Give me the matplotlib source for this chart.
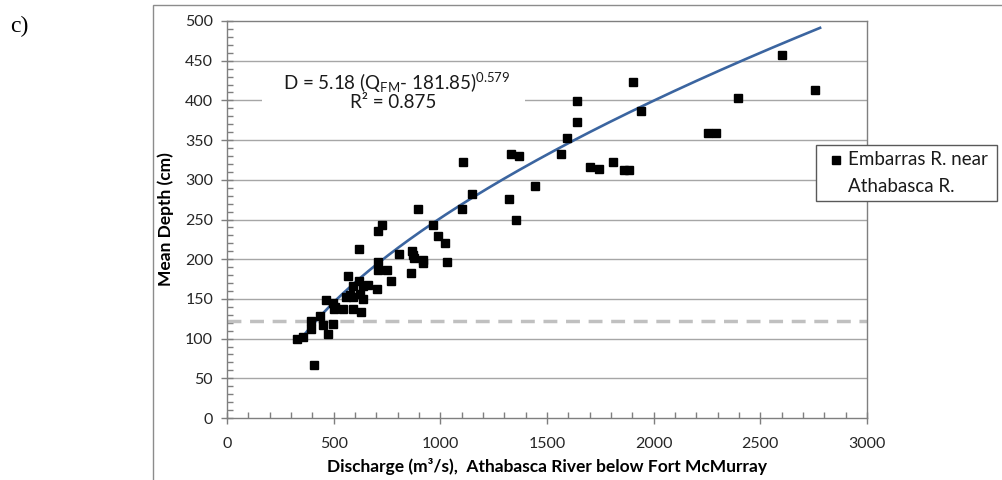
import numpy as np
import matplotlib
matplotlib.use("Agg")
import matplotlib.pyplot as plt
from matplotlib.patches import Rectangle
from matplotlib.lines import Line2D
from matplotlib.ticker import MultipleLocator

plt.rcParams['font.family'] = ['Lato', 'DejaVu Sans']
plt.rcParams['mathtext.fontset'] = 'custom'
plt.rcParams['mathtext.rm'] = 'Lato'
plt.rcParams['mathtext.it'] = 'Lato'

# ---- data ----
discharge = [327, 358, 394, 394, 409, 436, 451, 472, 464, 495, 498, 503, 506,
             545, 556, 566, 577, 589, 592, 592, 620, 620, 623, 627, 636, 639,
             659, 705, 706, 709, 706, 725, 749, 768, 808, 866, 873, 877, 863,
             897, 920, 920, 967, 991, 1022, 1032, 1103, 1108, 1150, 1322, 1330,
             1354, 1371, 1444, 1564, 1592, 1640, 1640, 1702, 1744, 1811, 1860,
             1885, 1903, 1940, 2253, 2292, 2393, 2602, 2756]
depth = [99, 102, 112, 122, 67, 129, 117, 106, 149, 119, 145, 137, 140,
         137, 153, 179, 155, 137, 152, 166, 213, 172, 156, 133, 150, 166,
         168, 163, 186, 196, 236, 243, 186, 173, 206, 210, 205, 201, 183,
         263, 199, 195, 243, 229, 220, 196, 263, 323, 282, 276, 333,
         250, 330, 292, 333, 353, 373, 399, 316, 313, 323, 312,
         312, 423, 387, 359, 359, 403, 457, 413]
fit_a, fit_q0, fit_b = 5.18, 181.85, 0.579
fit_range = (340, 2780)
threshold_depth = 122
series_label = "Embarras R. near\nAthabasca R."

W, H = 1002, 480
fig = plt.figure(figsize=(W / 100, H / 100), dpi=100)

def fx(px):
    return px / W

def fy(py):
    return 1 - py / H

# outer chart frame
fig.patches.append(Rectangle((fx(153), fy(485)), 2, fy(5) - fy(485),
                             transform=fig.transFigure, fill=False,
                             edgecolor='#8c8c8c', lw=1.0, zorder=0))

ax = fig.add_axes([fx(227), fy(418), fx(867) - fx(227), fy(21) - fy(418)])
ax.set_xlim(0, 3000)
ax.set_ylim(0, 500)

ax.xaxis.set_major_locator(MultipleLocator(500))
ax.xaxis.set_minor_locator(MultipleLocator(100))
ax.yaxis.set_major_locator(MultipleLocator(50))
ax.yaxis.set_minor_locator(MultipleLocator(10))
ax.tick_params(which='major', direction='inout', length=8, width=1,
               color='#7f7f7f', labelsize=11.5, labelcolor='#262626', pad=4)
ax.tick_params(which='minor', direction='in', length=4, width=1, color='#7f7f7f')
ax.tick_params(axis='x', pad=10)
ax.tick_params(axis='y', pad=6)

for s in ax.spines.values():
    s.set_color('#7f7f7f')
    s.set_linewidth(1.0)

for yv in range(50, 500, 50):
    ax.axhline(yv, color='#a6a6a6', lw=1.0, zorder=1)

ax.axhline(threshold_depth, color='#c0c0c0', lw=2.5, dashes=(4, 2.5), zorder=2)

q = np.linspace(fit_range[0], fit_range[1], 300)
ax.plot(q, fit_a * (q - fit_q0) ** fit_b, color='#3b65a0', lw=1.9, zorder=3)

ax.plot(discharge, depth, 's', color='black', ms=5.6, zorder=4)

ax.set_xlabel("Discharge (m³/s),  Athabasca River below Fort McMurray",
              fontsize=12.5, fontweight='bold', labelpad=5)
ax.set_ylabel("Mean Depth (cm)", fontsize=12.5, fontweight='bold', labelpad=8)

# equation box (white background hides the gridline)
fig.patches.append(Rectangle((fx(262), fy(112)), fx(525) - fx(262), fy(68) - fy(112),
                             transform=fig.transFigure, facecolor='white',
                             edgecolor='none', zorder=5))
fig.text(fx(397), fy(83), r"D = 5.18 (Q$_{\mathregular{FM}}$- 181.85)$^{\mathregular{0.579}}$",
         ha='center', va='center', fontsize=13.5, color='#1a1a1a', zorder=6)
fig.text(fx(393), fy(103), "R² = 0.875", ha='center', va='center',
         fontsize=13.5, color='#1a1a1a', zorder=6)

# legend
fig.patches.append(Rectangle((fx(816), fy(201)), fx(997) - fx(816), fy(145) - fy(201),
                             transform=fig.transFigure, facecolor='white',
                             edgecolor='#595959', lw=1.0, zorder=7))
fig.lines.append(Line2D([fx(836)], [fy(160)], marker='s', color='black', ms=5.5,
                        transform=fig.transFigure, zorder=8))
lines = series_label.split("\n")
fig.text(fx(848), fy(160), lines[0], ha='left', va='center', fontsize=13.5,
         color='#1a1a1a', zorder=8)
fig.text(fx(848), fy(187), lines[1], ha='left', va='center', fontsize=13.5,
         color='#1a1a1a', zorder=8)

fig.text(fx(10), fy(26), "c)", ha='left', va='center', fontsize=17,
         family='Liberation Serif', color='black')

fig.savefig("out.png", dpi=100)
